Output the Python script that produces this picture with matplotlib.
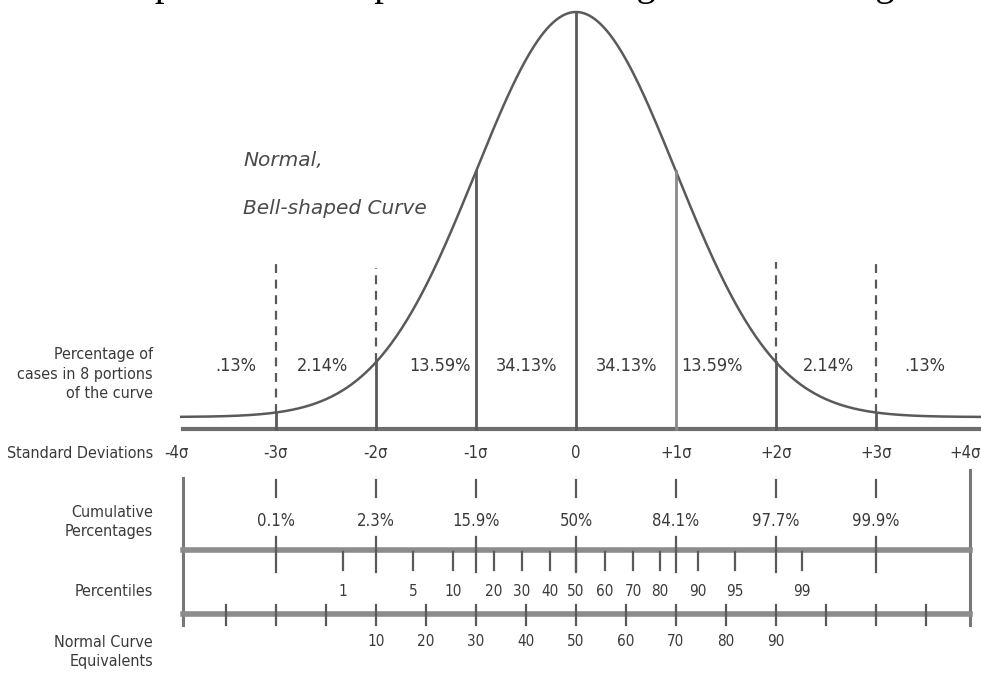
"""
Normal curve with standard deviations, cumulative percentages,
percentiles and normal curve equivalents
"""

import numpy as np
import matplotlib.pyplot as plt

# data
sigma_pos = [-4, -3, -2, -1, 0, 1, 2, 3, 4]
sigma_labels = ["-4σ", "-3σ", "-2σ", "-1σ", "0", "+1σ", "+2σ", "+3σ", "+4σ"]

portion_labels = [".13%", "2.14%", "13.59%", "34.13%", "34.13%", "13.59%", "2.14%", ".13%"]
portion_pos = [-3.4, -2.53, -1.36, -0.49, 0.51, 1.36, 2.52, 3.49]

cum_pos = [-3, -2, -1, 0, 1, 2, 3]
cum_labels = ["0.1%", "2.3%", "15.9%", "50%", "84.1%", "97.7%", "99.9%"]

pct_labels = ["1", "5", "10", "20", "30", "40", "50", "60", "70", "80", "90", "95", "99"]
pct_pos = [-2.33, -1.63, -1.23, -0.82, -0.54, -0.26, 0.0, 0.29, 0.57, 0.84, 1.22, 1.59, 2.26]

nce_ticks = [-3.5, -3, -2.5, -2, -1.5, -1, -0.5, 0, 0.5, 1, 1.5, 2, 2.5, 3, 3.5]
nce_labels = ["10", "20", "30", "40", "50", "60", "70", "80", "90"]
nce_label_pos = [-2, -1.5, -1, -0.5, 0, 0.5, 1, 1.5, 2]


# pixel -> data helpers (0 at x=576 px, 1 sigma = 100 px; curve base 417 px, peak 12 px)
def X(px):
    return (px - 576) / 100.0


def Y(px):
    return (417 - px) / 405.0


plt.rcParams["font.family"] = ["DejaVu Sans"]
plt.rcParams["font.stretch"] = "condensed"
TXT = "#3a3a3a"
LINE = "#5a5a5a"

fig = plt.figure(figsize=(9.81, 6.77), dpi=100)
ax = fig.add_axes([0, 0, 1, 1])
ax.set_xlim(X(0), X(981))
ax.set_ylim(Y(677), Y(0))
ax.axis("off")

# cut-off heading at the very top (only the descenders peek in)
fig.text(64 / 981, 1 + 5 / 677, "Example of normal percentile ranking in normal range",
         family="Liberation Serif", fontstretch="normal", fontsize=28, color="black",
         va="baseline", ha="left")

# bell curve
z = np.linspace(X(180), X(981), 800)
h = np.exp(-z ** 2 / 2)
ax.plot(z, h, color=LINE, lw=1.8, solid_capstyle="butt")

axis_y = Y(429)
ax.plot([X(183), X(981)], [axis_y, axis_y], color="#6e6e6e", lw=3)

# verticals under the curve
for s in [-3, -2, -1, 0, 1, 2, 3]:
    top = np.exp(-s ** 2 / 2)
    col = "#8a8a8a" if s == 1 else LINE
    ax.plot([s, s], [axis_y, top], color=col, lw=2)
for s, start in [(-3, 258), (3, 258), (-2, 268), (2, 262)]:
    ax.plot([s, s], [np.exp(-s ** 2 / 2), Y(start)], color=LINE, lw=1.6,
            linestyle=(0, (4, 3)))

# portion percentages
for p, lab in zip(portion_pos, portion_labels):
    ax.text(p, Y(366), lab, ha="center", va="center", fontsize=13, color=TXT)

kw_it = dict(ha="left", va="center", fontsize=14.5, style="italic",
             fontstretch="normal", color="#4a4a4a")
ax.text(X(243), Y(161), "Normal,", **kw_it)
ax.text(X(243), Y(208), "Bell-shaped Curve", **kw_it)

# standard deviations row
for s, lab in zip(sigma_pos[:-1], sigma_labels[:-1]):
    ax.text(s, Y(453), lab, ha="center", va="center", fontsize=12, color=TXT)
ax.text(X(981), Y(453), sigma_labels[-1], ha="right", va="center", fontsize=12, color=TXT)

# frame of the lower scales
ax.plot([X(183), X(183)], [Y(478), Y(625)], color="#777777", lw=2.2)
ax.plot([X(970), X(970)], [Y(470), Y(625)], color="#777777", lw=2.2)

# cumulative percentages
for s, lab in zip(cum_pos, cum_labels):
    ax.plot([s, s], [Y(480), Y(497)], color=LINE, lw=1.6)
    ax.text(s, Y(521), lab, ha="center", va="center", fontsize=12, color=TXT)

# percentiles scale
pct_y = Y(550)
ax.plot([X(183), X(970)], [pct_y, pct_y], color="#8c8c8c", lw=4)
for s in cum_pos:
    ax.plot([s, s], [Y(537), Y(572)], color=LINE, lw=1.6)
for p, lab in zip(pct_pos, pct_labels):
    ax.plot([p, p], [Y(552), Y(570)], color=LINE, lw=1.6)
    ax.text(p, Y(591), lab, ha="center", va="center", fontsize=11, color=TXT)

# normal curve equivalents scale
nce_y = Y(614)
ax.plot([X(183), X(970)], [nce_y, nce_y], color="#8c8c8c", lw=4)
for t in nce_ticks:
    ax.plot([t, t], [Y(605), Y(625)], color=LINE, lw=1.6)
for p, lab in zip(nce_label_pos, nce_labels):
    ax.text(p, Y(641), lab, ha="center", va="center", fontsize=11, color=TXT)

# row titles on the left
lx = X(153)
kw = dict(ha="right", va="center", fontsize=11.5, color=TXT, linespacing=1.4)
ax.text(lx, Y(374), "Percentage of\ncases in 8 portions\nof the curve", **kw)
ax.text(lx, Y(453), "Standard Deviations", **kw)
ax.text(lx, Y(522), "Cumulative\nPercentages", **kw)
ax.text(lx, Y(592), "Percentiles", **kw)
ax.text(lx, Y(652), "Normal Curve\nEquivalents", **kw)

fig.savefig("out.png", dpi=100)
